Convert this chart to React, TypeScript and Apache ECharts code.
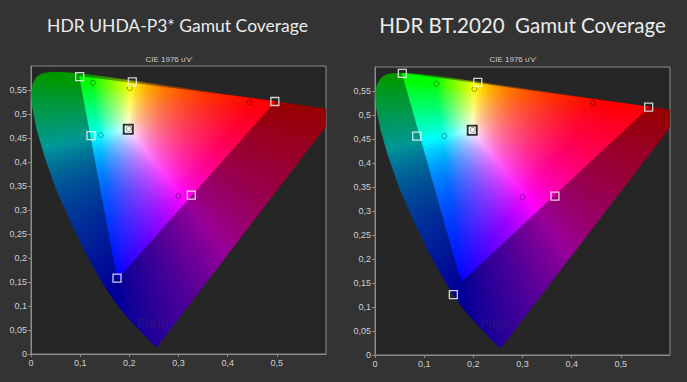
import React, { useEffect, useRef } from 'react';
import * as echarts from 'echarts';

// ---- CIE 1976 u'v' spectral locus (380 nm -> 700 nm) ----
const locusNm = [380, 400, 410, 420, 430, 440, 450, 455, 460, 465, 470, 475, 480, 485, 490, 495, 500, 505, 510, 515, 520, 525, 530, 540, 550, 560, 570, 580, 590, 600, 610, 620, 630, 640, 650, 700];
const locusU = [0.2568, 0.2557, 0.2545, 0.2522, 0.2461, 0.2347, 0.2161, 0.2033, 0.1877, 0.169, 0.1441, 0.1147, 0.0828, 0.0521, 0.0282, 0.0119, 0.0035, 0.0014, 0.0046, 0.0123, 0.0231, 0.036, 0.0501, 0.0792, 0.1127, 0.1531, 0.2026, 0.2623, 0.3315, 0.4035, 0.4692, 0.5203, 0.5565, 0.583, 0.6005, 0.6234];
const locusV = [0.0166, 0.0159, 0.0159, 0.0169, 0.0226, 0.035, 0.0549, 0.0688, 0.0871, 0.1119, 0.151, 0.2044, 0.2708, 0.3427, 0.4117, 0.4698, 0.5131, 0.5432, 0.5638, 0.577, 0.5837, 0.5861, 0.5868, 0.5856, 0.5821, 0.5766, 0.5694, 0.5604, 0.5501, 0.5393, 0.5296, 0.5219, 0.5165, 0.5125, 0.5099, 0.5065];

const whiteU = 0.1978;
const whiteV = 0.4683;

// ---- points: R, G, B, C, M, Y ----
const pointNames = ['R', 'G', 'B', 'C', 'M', 'Y'];
const p3TargetU = [0.496, 0.099, 0.175, 0.122, 0.326, 0.206];
const p3TargetV = [0.526, 0.578, 0.158, 0.455, 0.331, 0.567];
const p3MeasuredU = [0.444, 0.126, 0.177, 0.142, 0.3, 0.201];
const p3MeasuredV = [0.525, 0.565, 0.157, 0.456, 0.329, 0.554];
const p3WhiteMeasured = [0.199, 0.469];
const p3BrightU = [0.099, 0.496, 0.176];
const p3BrightV = [0.578, 0.526, 0.157];

const bt2020TargetU = [0.5566, 0.0556, 0.1593, 0.085, 0.366, 0.209];
const bt2020TargetV = [0.5165, 0.5868, 0.1258, 0.456, 0.331, 0.568];
const bt2020MeasuredU = [0.443, 0.125, 0.177, 0.141, 0.3, 0.202];
const bt2020MeasuredV = [0.525, 0.565, 0.156, 0.456, 0.329, 0.554];
const bt2020WhiteMeasured = [0.199, 0.469];
const bt2020BrightU = [0.0556, 0.5566, 0.176];
const bt2020BrightV = [0.5868, 0.5165, 0.153];

const xTickLabels = ['0', '0,1', '0,2', '0,3', '0,4', '0,5'];
const yTickLabels = ['0', '0,05', '0,1', '0,15', '0,2', '0,25', '0,3', '0,35', '0,4', '0,45', '0,5', '0,55'];

const titles = ['HDR UHDA-P3* Gamut Coverage', 'HDR BT.2020  Gamut Coverage'];
const subTitle = "CIE 1976 u'v'";

// ---- colour of a chromaticity ----
function uvColor(u: number, v: number): number[] {
  const d = 6 * u - 16 * v + 12;
  const x = (9 * u) / d;
  const y = (4 * v) / d;
  const X = x / y;
  const Z = (1 - x - y) / y;
  let r = 3.2406 * X - 1.5372 - 0.4986 * Z;
  let g = -0.9689 * X + 1.8758 + 0.0415 * Z;
  let b = 0.0557 * X - 0.204 + 1.057 * Z;
  r = Math.max(0, r); g = Math.max(0, g); b = Math.max(0, b);
  const m = Math.max(r, g, b, 1e-6);
  const gam = (c: number) => Math.pow(c, 0.8);
  return [gam(r / m), gam(g / m), gam(b / m)];
}

const stopsT = [0, 0.03, 0.07, 0.12, 0.18, 0.25, 0.33, 0.42, 0.52, 0.63, 0.75, 0.87, 1];

type Wedge = { p: number[]; q: number[]; m: number[]; stops: { offset: number; color: string }[] };

function buildWedges(us: number[], vs: number[], dim: number): Wedge[] {
  const out: Wedge[] = [];
  const n = us.length;
  for (let i = 0; i < n; i++) {
    const a = [us[i], vs[i]];
    const b = [us[(i + 1) % n], vs[(i + 1) % n]];
    const len = Math.hypot(b[0] - a[0], b[1] - a[1]);
    const k = Math.max(1, Math.ceil(len / 0.01));
    for (let j = 0; j < k; j++) {
      const p = [a[0] + ((b[0] - a[0]) * j) / k, a[1] + ((b[1] - a[1]) * j) / k];
      const q = [a[0] + ((b[0] - a[0]) * (j + 1)) / k, a[1] + ((b[1] - a[1]) * (j + 1)) / k];
      const m = [(p[0] + q[0]) / 2, (p[1] + q[1]) / 2];
      const stops = stopsT.map((t) => {
        const c = uvColor(whiteU + t * (m[0] - whiteU), whiteV + t * (m[1] - whiteV));
        return {
          offset: t,
          color: `rgb(${Math.round(c[0] * 255 * dim)},${Math.round(c[1] * 255 * dim)},${Math.round(c[2] * 255 * dim)})`,
        };
      });
      out.push({ p, q, m, stops });
    }
  }
  return out;
}

function gamutSeries(wedges: Wedge[], gi: number, z: number) {
  return {
    type: 'custom',
    xAxisIndex: gi,
    yAxisIndex: gi,
    clip: true,
    silent: true,
    z,
    encode: { x: 0, y: 1 },
    data: wedges.map((w) => w.m),
    renderItem: (params: any, api: any) => {
      const w = wedges[params.dataIndex];
      const pw = api.coord([whiteU, whiteV]);
      const pp = api.coord(w.p);
      const pq = api.coord(w.q);
      const pm = api.coord(w.m);
      const grad = { type: 'linear', x: pw[0], y: pw[1], x2: pm[0], y2: pm[1], global: true, colorStops: w.stops };
      return {
        type: 'polygon',
        shape: { points: [pw, pp, pq] },
        style: { fill: grad, stroke: grad, lineWidth: 0.8, lineJoin: 'round' },
      };
    },
  };
}

function markerSeries(gi: number, tu: number[], tv: number[], mu: number[], mv: number[], mw: number[]) {
  return [
    {
      type: 'scatter', xAxisIndex: gi, yAxisIndex: gi, z: 5, silent: true,
      symbol: 'circle', symbolSize: 5,
      itemStyle: { color: 'rgba(0,0,0,0)', borderColor: 'rgba(0,0,0,0.45)', borderWidth: 1 },
      data: pointNames.map((_, i) => [mu[i], mv[i]]),
    },
    {
      type: 'scatter', xAxisIndex: gi, yAxisIndex: gi, z: 6, silent: true,
      symbol: 'rect', symbolSize: 8,
      itemStyle: { color: 'rgba(0,0,0,0)', borderColor: '#ffffff', borderWidth: 1.3 },
      data: pointNames.map((_, i) => [tu[i], tv[i]]),
    },
    {
      type: 'scatter', xAxisIndex: gi, yAxisIndex: gi, z: 6, silent: true,
      symbol: 'rect', symbolSize: 9,
      itemStyle: { color: 'rgba(0,0,0,0)', borderColor: '#000000', borderWidth: 2 },
      data: [[whiteU, whiteV]],
    },
    {
      type: 'scatter', xAxisIndex: gi, yAxisIndex: gi, z: 7, silent: true,
      symbol: 'rect', symbolSize: 6,
      itemStyle: { color: 'rgba(0,0,0,0)', borderColor: '#ffffff', borderWidth: 1 },
      data: [[whiteU, whiteV]],
    },
    {
      type: 'scatter', xAxisIndex: gi, yAxisIndex: gi, z: 7, silent: true,
      symbol: 'circle', symbolSize: 5,
      itemStyle: { color: 'rgba(0,0,0,0)', borderColor: 'rgba(0,0,0,0.5)', borderWidth: 1 },
      data: [mw],
    },
  ];
}

export default function App() {
  const ref = useRef<HTMLDivElement>(null);
  useEffect(() => {
    if (!ref.current) return;
    const chart = echarts.init(ref.current, undefined, { renderer: 'svg' });

    const horseshoe = buildWedges(locusU, locusV, 0.6);
    const p3Bright = buildWedges(p3BrightU, p3BrightV, 1);
    const bt2020Bright = buildWedges(bt2020BrightU, bt2020BrightV, 1);

    const grids = [
      { left: 31, top: 66, width: 295, height: 288 },
      { left: 375, top: 67, width: 295, height: 288 },
    ];

    const xFmt = (v: number) => xTickLabels[Math.round(v / 0.1)] ?? '';
    const yFmt = (v: number) => yTickLabels[Math.round(v / 0.05)] ?? '';
    const axisLabelBase = { color: '#d0d0d0', fontSize: 9, fontFamily: 'Liberation Sans', margin: 4, showMaxLabel: false };

    const option: any = {
      animation: false,
      backgroundColor: '#333333',
      grid: grids.map((g) => ({ ...g, show: true, backgroundColor: '#262626', borderColor: '#8c8c8c', borderWidth: 1 })),
      xAxis: [0, 1].map((i) => ({
        gridIndex: i, type: 'value', min: 0, max: 0.6, interval: 0.1,
        axisLine: { show: true, onZero: false, lineStyle: { color: '#8c8c8c' } },
        axisTick: { show: true, length: 3, lineStyle: { color: '#8c8c8c' } },
        axisLabel: { ...axisLabelBase, formatter: xFmt },
        splitLine: { show: false },
      })),
      yAxis: [0, 1].map((i) => ({
        gridIndex: i, type: 'value', min: 0, max: 0.6, interval: 0.05,
        axisLine: { show: true, onZero: false, lineStyle: { color: '#8c8c8c' } },
        axisTick: { show: true, length: 3, lineStyle: { color: '#8c8c8c' } },
        axisLabel: { ...axisLabelBase, formatter: yFmt },
        splitLine: { show: false },
      })),
      graphic: [
        { type: 'text', x: 177.5, y: 25, silent: true, style: { text: titles[0], fill: '#ececec', font: '17.5px Lato', align: 'center', verticalAlign: 'middle' } },
        { type: 'text', x: 522.5, y: 25, silent: true, style: { text: titles[1], fill: '#ececec', font: '20.5px Lato', align: 'center', verticalAlign: 'middle' } },
        { type: 'text', x: 169, y: 59, silent: true, style: { text: subTitle, fill: '#cfcfcf', font: '8px "Liberation Sans"', align: 'center', verticalAlign: 'middle' } },
        { type: 'text', x: 513, y: 59, silent: true, style: { text: subTitle, fill: '#cfcfcf', font: '8px "Liberation Sans"', align: 'center', verticalAlign: 'middle' } },
        { type: 'text', x: 137, y: 322, z: 3, silent: true, style: { text: 'Plein', fill: 'rgba(60,60,90,0.3)', font: '14px "Noto Sans"', align: 'left', verticalAlign: 'middle' } },
        { type: 'text', x: 480, y: 323, z: 3, silent: true, style: { text: 'Plein =', fill: 'rgba(60,60,90,0.3)', font: '14px "Noto Sans"', align: 'left', verticalAlign: 'middle' } },
      ],
      series: [
        gamutSeries(horseshoe, 0, 2),
        gamutSeries(p3Bright, 0, 3),
        gamutSeries(horseshoe, 1, 2),
        gamutSeries(bt2020Bright, 1, 3),
        ...markerSeries(0, p3TargetU, p3TargetV, p3MeasuredU, p3MeasuredV, p3WhiteMeasured),
        ...markerSeries(1, bt2020TargetU, bt2020TargetV, bt2020MeasuredU, bt2020MeasuredV, bt2020WhiteMeasured),
      ],
    };
    chart.setOption(option);
    return () => chart.dispose();
  }, []);
  return <div ref={ref} style={{ position: 'fixed', left: 0, top: 0, width: 687, height: 382 }} />;
}
